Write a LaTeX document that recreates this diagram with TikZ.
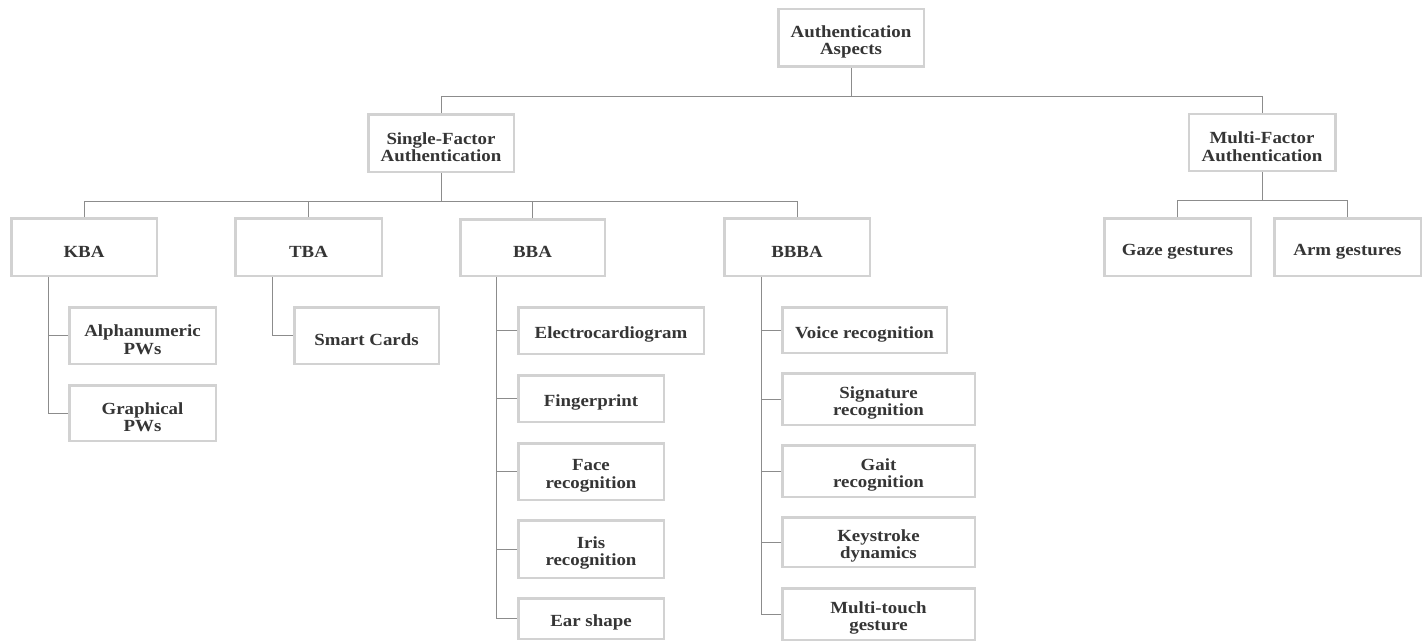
\documentclass[tikz,border=0pt]{standalone}
\usepackage{fontspec}
\newfontfamily\lblfont{Liberation Serif}[FakeStretch=1.11]
\definecolor{boxgray}{HTML}{D2D2D2}
\definecolor{linegray}{HTML}{8C8C8C}
\definecolor{txtgray}{HTML}{353535}
\begin{document}
\begin{tikzpicture}[x=1pt,y=-1pt,
  bx/.style={draw=boxgray, line width=2.5pt, fill=white, align=center, inner sep=0pt,
    text=txtgray, font=\lblfont\bfseries\fontsize{17}{17.5}\selectfont,
    execute at begin node={\rule{0pt}{20.5pt}}},
  bxtwo/.style={bx, execute at begin node={\rule{0pt}{37.5pt}}},
  conn/.style={draw=linegray, line width=1pt}]
\useasboundingbox (0,0) rectangle (1426,642);
% nodes: minimum width/height = outer - 2.5
\node[bxtwo, minimum width=145.5, minimum height=57.5] (root) at (851,38) {Authentication\\Aspects};
\node[bxtwo, minimum width=145.5, minimum height=57.5] (sf) at (441,143) {Single-Factor\\Authentication};
\node[bxtwo, minimum width=146.5, minimum height=57] (mf) at (1262,142.5) {Multi-Factor\\Authentication};
\node[bx, minimum width=145.5, minimum height=57.5] (kba) at (84,247) {KBA};
\node[bx, minimum width=146.5, minimum height=57.5] (tba) at (308.5,247) {TBA};
\node[bx, minimum width=144.5, minimum height=56.5] (bba) at (532.5,247.5) {BBA};
\node[bx, minimum width=145.5, minimum height=57.5] (bbba) at (797,247) {BBBA};
\node[bx, minimum width=146.5, minimum height=57.5] (gaze) at (1177.5,247) {Gaze gestures};
\node[bx, minimum width=146.5, minimum height=57.5] (arm) at (1347.5,247) {Arm gestures};
\node[bxtwo, minimum width=146.5, minimum height=56.5] (alpha) at (142.5,335.5) {Alphanumeric\\PWs};
\node[bxtwo, minimum width=146.5, minimum height=55.5] (graph) at (142.5,413) {Graphical\\PWs};
\node[bx, minimum width=144.5, minimum height=56.5] (smart) at (366.5,335.5) {Smart Cards};
\node[bx, minimum width=185.5, minimum height=46.5] (ecg) at (611,330.5) {Electrocardiogram};
\node[bx, minimum width=145.5, minimum height=46.5] (finger) at (591,398.5) {Fingerprint};
\node[bxtwo, minimum width=145.5, minimum height=56.5] (face) at (591,471.5) {Face\\recognition};
\node[bxtwo, minimum width=145.5, minimum height=57.5] (iris) at (591,549) {Iris\\recognition};
\node[bx, minimum width=145.5, minimum height=40.5] (ear) at (591,618.5) {Ear shape};
\node[bx, minimum width=164.5, minimum height=45.5] (voice) at (864.5,330) {Voice recognition};
\node[bxtwo, minimum width=192.5, minimum height=51.5] (sig) at (878.5,399) {Signature\\recognition};
\node[bxtwo, minimum width=192.5, minimum height=51.5] (gait) at (878.5,471) {Gait\\recognition};
\node[bxtwo, minimum width=192.5, minimum height=49.5] (key) at (878.5,542) {Keystroke\\dynamics};
\node[bxtwo, minimum width=192.5, minimum height=51.5] (multi) at (878.5,614) {Multi-touch\\gesture};
% level 1
\draw[conn] (root.south) -- (root.south |- 0,96);
\draw[conn] (sf.north) |- (mf.north |- 0,96) -- (mf.north);
% level 2
\draw[conn] (sf.south) -- (sf.south |- 0,201);
\draw[conn] (kba.north) |- (bbba.north |- 0,201) -- (bbba.north);
\draw[conn] (tba.north) -- (tba.north |- 0,201);
\draw[conn] (bba.north) -- (bba.north |- 0,201);
\draw[conn] (mf.south) -- (mf.south |- 0,200);
\draw[conn] (gaze.north) |- (arm.north |- 0,200) -- (arm.north);
% level 3
\draw[conn] (kba.south -| 48,0) |- (graph.west);
\draw[conn] (alpha.west) -- (alpha.west -| 48,0);
\draw[conn] (tba.south -| 272,0) |- (smart.west);
\draw[conn] (bba.south -| 496,0) |- (ear.west);
\draw[conn] (ecg.west) -- (ecg.west -| 496,0);
\draw[conn] (finger.west) -- (finger.west -| 496,0);
\draw[conn] (face.west) -- (face.west -| 496,0);
\draw[conn] (iris.west) -- (iris.west -| 496,0);
\draw[conn] (bbba.south -| 761,0) |- (multi.west);
\draw[conn] (voice.west) -- (voice.west -| 761,0);
\draw[conn] (sig.west) -- (sig.west -| 761,0);
\draw[conn] (gait.west) -- (gait.west -| 761,0);
\draw[conn] (key.west) -- (key.west -| 761,0);
\end{tikzpicture}
\end{document}
